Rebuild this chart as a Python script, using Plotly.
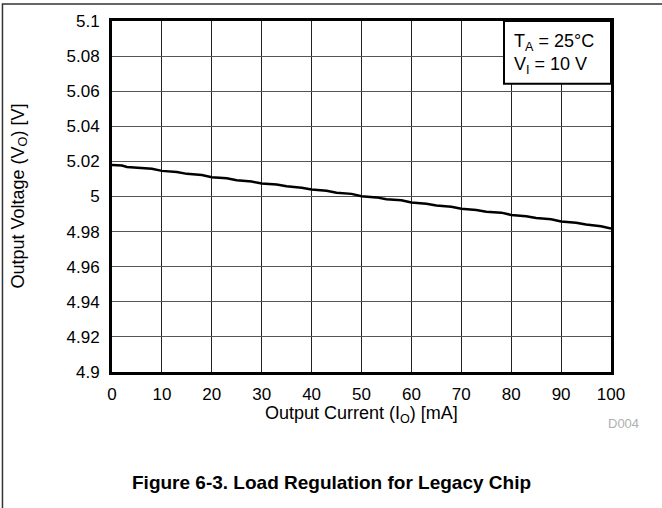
import plotly.graph_objects as go

current_ma = [0, 1, 2, 3, 5, 8, 10, 13, 15, 18, 20, 23, 25, 28, 30, 33, 35, 38, 40, 43, 45, 48, 50,
              53, 55, 58, 60, 63, 65, 68, 70, 73, 75, 78, 80, 83, 85, 88, 90, 93, 95, 98, 100]
voltage_v = [5.0180, 5.0179, 5.0176, 5.0168, 5.0164, 5.0158, 5.0146, 5.0140, 5.0129, 5.0122, 5.0110,
             5.0104, 5.0093, 5.0085, 5.0074, 5.0068, 5.0058, 5.0050, 5.0040, 5.0033, 5.0022, 5.0015,
             5.0002, 4.9995, 4.9984, 4.9978, 4.9966, 4.9959, 4.9949, 4.9941, 4.9930, 4.9923, 4.9913,
             4.9908, 4.9895, 4.9888, 4.9877, 4.9870, 4.9858, 4.9851, 4.9840, 4.9831, 4.9818]

x_ticks = [0, 10, 20, 30, 40, 50, 60, 70, 80, 90, 100]
y_ticks = [4.9, 4.92, 4.94, 4.96, 4.98, 5.0, 5.02, 5.04, 5.06, 5.08, 5.1]
y_tick_text = ["4.9", "4.92", "4.94", "4.96", "4.98", "5", "5.02", "5.04", "5.06", "5.08", "5.1"]

FONT = "Liberation Sans, Arial, sans-serif"

fig = go.Figure()
fig.add_trace(go.Scatter(x=current_ma, y=voltage_v, mode="lines",
                         line=dict(color="black", width=2.5), showlegend=False,
                         hoverinfo="skip"))

fig.update_layout(
    width=662, height=508,
    margin=dict(l=112, r=51, t=19, b=136),
    paper_bgcolor="white", plot_bgcolor="white",
    font=dict(family=FONT, size=17, color="black"),
    showlegend=False,
)
fig.update_xaxes(range=[0, 100], tickvals=x_ticks, ticks="outside", ticklen=5,
                 tickcolor="rgba(0,0,0,0)", showgrid=True, gridcolor="#222", gridwidth=1,
                 showline=True, linecolor="black", linewidth=3, mirror=True, zeroline=False,
                 tickfont=dict(size=17))
fig.update_yaxes(range=[4.9, 5.1], tickvals=y_ticks, ticktext=y_tick_text, ticks="outside",
                 ticklen=6, tickcolor="rgba(0,0,0,0)", showgrid=True, gridcolor="#555",
                 gridwidth=1, showline=True, linecolor="black", linewidth=3, mirror=True,
                 zeroline=False, tickfont=dict(size=17))

# outer frame of the figure
fig.add_shape(type="rect", xref="paper", yref="paper", x0=-0.2195, x1=1.2, y0=-0.5, y1=1.0485,
              line=dict(color="#333", width=1.5), fillcolor="rgba(0,0,0,0)", layer="below")

# condition box
fig.add_shape(type="rect", xref="paper", yref="paper", x0=(504 - 112) / 499, x1=1.0,
              y0=(372 - 82) / 353, y1=1.0, line=dict(color="black", width=2),
              fillcolor="white", layer="above")
fig.add_annotation(xref="paper", yref="paper", x=(512 - 112) / 499, y=(372 - 41) / 353,
                   xanchor="left", yanchor="middle", showarrow=False,
                   text="T<sub>A</sub> = 25°C", font=dict(size=18))
fig.add_annotation(xref="paper", yref="paper", x=(512 - 112) / 499, y=(372 - 64) / 353,
                   xanchor="left", yanchor="middle", showarrow=False,
                   text="V<sub>I</sub> = 10 V", font=dict(size=18))

# axis titles
fig.add_annotation(xref="paper", yref="paper", x=0.5, y=(372 - 415) / 353,
                   xanchor="center", yanchor="middle", showarrow=False,
                   text="Output Current (I<sub>O</sub>) [mA]", font=dict(size=18))
fig.add_annotation(xref="paper", yref="paper", x=(19 - 112) / 499, y=0.5,
                   xanchor="center", yanchor="middle", showarrow=False, textangle=-90,
                   text="Output Voltage (V<sub>O</sub>) [V]", font=dict(size=18))
fig.add_annotation(xref="paper", yref="paper", x=(623 - 112) / 499, y=(372 - 424) / 353,
                   xanchor="center", yanchor="middle", showarrow=False,
                   text="D004", font=dict(size=13, color="#b0b0b0"))

# caption
fig.add_annotation(xref="paper", yref="paper", x=(331 - 112) / 499, y=(372 - 483) / 353,
                   xanchor="center", yanchor="middle", showarrow=False,
                   text="<b>Figure 6-3. Load Regulation for Legacy Chip</b>",
                   font=dict(size=19))

fig.write_html("out.html")
